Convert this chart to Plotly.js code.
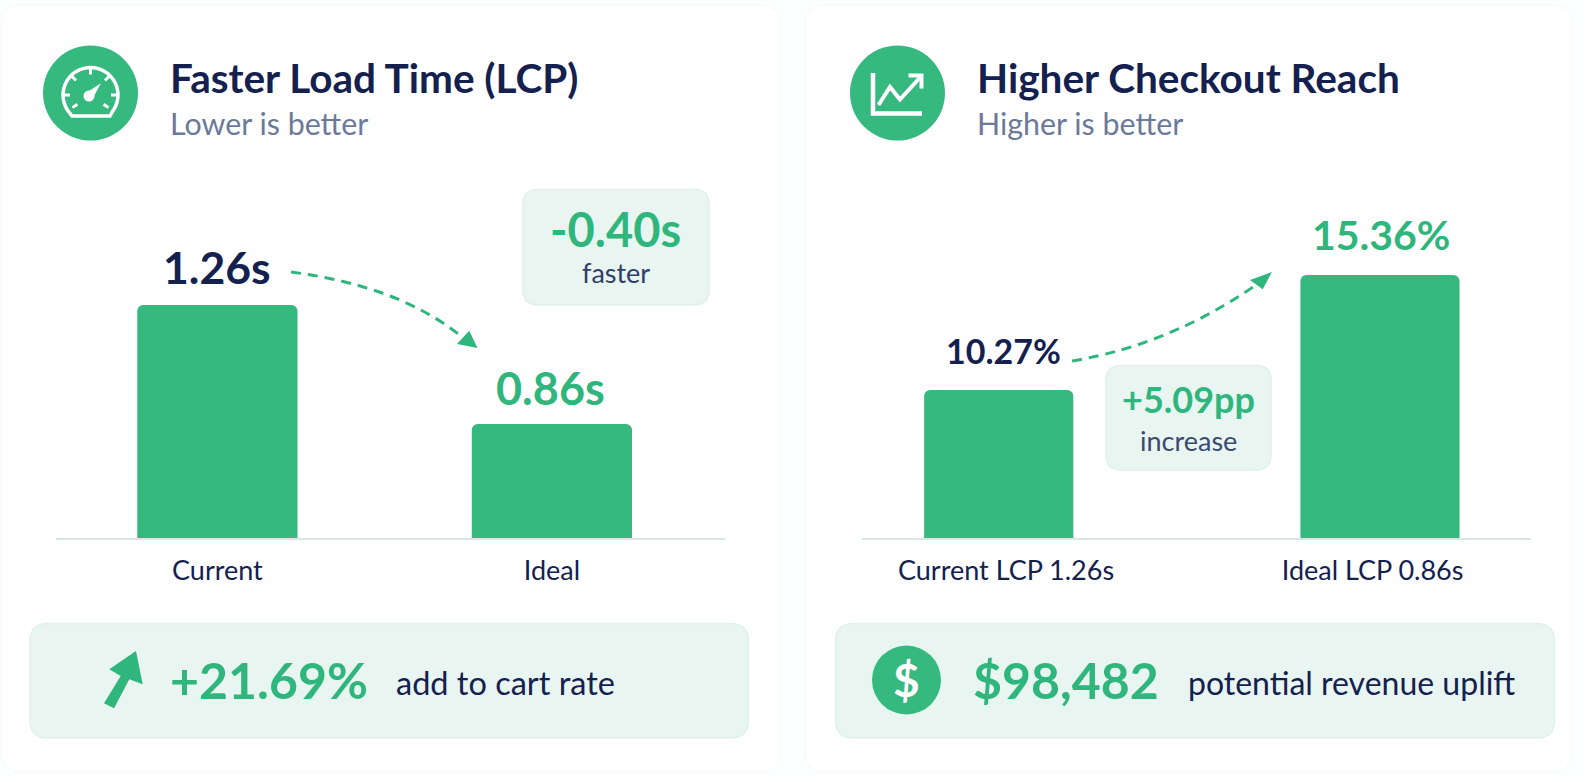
<!DOCTYPE html>
<html>
<head>
<meta charset="utf-8">
<script src="https://cdn.plot.ly/plotly-3.0.1.min.js"></script>
<style>html,body{margin:0;padding:0;background:#fdfefe;}#chart{width:1585px;height:777px;}</style>
</head>
<body>
<div id="chart"></div>
<script>
// ---- data ----
const lcpCategories = ['Current', 'Ideal'];
const lcpValues = [1.26, 0.86];
const reachCategories = ['Current LCP 1.26s', 'Ideal LCP 0.86s'];
const reachValues = [10.27, 15.36];
const lcpDelta = '-0.40s';
const reachDelta = '+5.09pp';
const cartUplift = '+21.69%';
const revenueUplift = '$98,482';

// ---- style ----
const W = 1585, H = 777;
const GREEN = '#35b97f', TGREEN = '#2fb67c', NAVY = '#14214f', GREY = '#6c7a9a', MINT = '#e9f5f1', MINTL = '#e1f0eb';
const FONT = 'Lato, "Noto Sans", sans-serif';
const X = x => (x / W).toFixed(5), Y = y => (1 - y / H).toFixed(5);
const PT = (x, y) => X(x) + ',' + Y(y);

function roundRect(x0, y0, x1, y1, r, fill, line) {
  const p = 'M' + PT(x0 + r, y0) + ' L' + PT(x1 - r, y0) + ' Q' + PT(x1, y0) + ' ' + PT(x1, y0 + r) +
    ' L' + PT(x1, y1 - r) + ' Q' + PT(x1, y1) + ' ' + PT(x1 - r, y1) +
    ' L' + PT(x0 + r, y1) + ' Q' + PT(x0, y1) + ' ' + PT(x0, y1 - r) +
    ' L' + PT(x0, y0 + r) + ' Q' + PT(x0, y0) + ' ' + PT(x0 + r, y0) + ' Z';
  return {type: 'path', xref: 'paper', yref: 'paper', path: p, fillcolor: fill, line: {color: line, width: 1.5}, layer: 'below'};
}
function circle(cx, cy, r, fill) {
  return {type: 'circle', xref: 'paper', yref: 'paper', x0: +X(cx - r), x1: +X(cx + r), y0: +Y(cy + r), y1: +Y(cy - r),
    fillcolor: fill, line: {width: 0}, layer: 'below'};
}
function poly(pts, fill, close) {
  const p = 'M' + pts.map(q => PT(q[0], q[1])).join(' L') + (close ? ' Z' : '');
  return {type: 'path', xref: 'paper', yref: 'paper', path: p, fillcolor: fill, line: {width: 0}, layer: 'below'};
}
function stroke(d, color, width, dash) {
  return {type: 'path', xref: 'paper', yref: 'paper', path: d, line: {color: color, width: width, dash: dash || 'solid'}, layer: 'below'};
}
function curve(a, b, c, d) {
  return 'M' + PT(a[0], a[1]) + ' C' + PT(b[0], b[1]) + ' ' + PT(c[0], c[1]) + ' ' + PT(d[0], d[1]);
}
function line(pts) { return 'M' + pts.map(q => PT(q[0], q[1])).join(' L'); }
function polar(cx, cy, r, deg) { const a = deg * Math.PI / 180; return [cx + r * Math.sin(a), cy - r * Math.cos(a)]; }

// gauge icon geometry
const gx = 90.5, gy = 95, gr = 27.5;
const arcPts = [];
for (let d = -128; d <= 128; d += 8) arcPts.push(polar(gx, gy, gr, d));
arcPts.push([110, 116], [72, 116], arcPts[0]);
const gaugeTicks = [-90, -45, 0, 45, 90, -125, 125].map(d => stroke(line([polar(gx, gy, d*d > 12000 ? 22 : gr, d), polar(gx, gy, d*d > 12000 ? 16 : gr - 7, d)]), '#fff', 3));

const shapes = [
  roundRect(1, 5, 780, 772, 20, '#ffffff', '#f9fbfb'),
  roundRect(805, 5, 1572, 772, 20, '#ffffff', '#f9fbfb'),
  circle(90.5, 93, 47.5, GREEN),
  circle(897.5, 93, 47.5, GREEN),
  stroke(line(arcPts), '#fff', 3.5),
  ...gaugeTicks,
  circle(89, 96, 5.5, '#fff'),
  poly([[86, 93], [101, 83], [92.5, 99]], '#fff', true),
  stroke(line([[873, 73], [873, 113.5], [922, 113.5]]), '#fff', 4.5),
  stroke(line([[878.5, 105], [890, 87], [900, 99.5], [920, 77.5]]), '#fff', 4),
  stroke(line([[908.5, 75.5], [921.5, 75.5], [921.5, 88.5]]), '#fff', 4),
  roundRect(523, 189.5, 709, 305, 15, MINT, MINTL),
  roundRect(1106, 365.5, 1271, 470, 15, MINT, MINTL),
  roundRect(30, 623.5, 748.5, 738, 18, MINT, MINTL),
  roundRect(835.5, 623.5, 1554.5, 738, 18, MINT, MINTL),
  stroke(curve([291, 272], [353, 280], [413, 298], [461, 336]), TGREEN, 3, '10px,7px'),
  poly([[477.5, 348], [469.2, 330.7], [457, 344]], TGREEN, true),
  stroke(curve([1072, 361], [1138, 350], [1198, 325], [1256, 285]), TGREEN, 3, '10px,7px'),
  poly([[1272, 272], [1250, 280], [1262.7, 289.3]], TGREEN, true),
  poly([[136, 651], [109.3, 669.3], [120.7, 676], [104, 703.3], [114, 708.3], [129.3, 679.3], [142.7, 684.3]], TGREEN, true),
  circle(906.5, 680, 34.5, GREEN)
];

function label(x, base, text, size, color, anchor, weight) {
  return {xref: 'paper', yref: 'paper', x: +X(x), y: +Y(base + size * 0.24), xanchor: anchor || 'left', yanchor: 'bottom',
    text: text, showarrow: false, borderpad: 0, font: {family: FONT, size: size, color: color, weight: weight || 400}};
}
function valueLabel(ax, ay, x, y, shiftX, shiftY, text, size, color) {
  return {xref: ax, yref: ay, x: x, y: y, xshift: shiftX, yshift: shiftY, xanchor: 'center', yanchor: 'bottom', text: text, showarrow: false,
    borderpad: 0, font: {family: FONT, size: size, color: color, weight: 700}};
}

const annotations = [
  label(169, 93, 'Faster Load Time (LCP)', 40.5, NAVY, 'left', 700),
  label(169, 135, 'Lower is better', 30.4, GREY),
  label(976, 93, 'Higher Checkout Reach', 40.5, NAVY, 'left', 700),
  label(976, 135, 'Higher is better', 30.4, GREY),
  valueLabel('x', 'y', lcpCategories[0], lcpValues[0], 0, 11, lcpValues[0].toFixed(2) + 's', 44.5, NAVY),
  valueLabel('x', 'y', lcpCategories[1], lcpValues[1], -1, 8, lcpValues[1].toFixed(2) + 's', 45, TGREEN),
  valueLabel('x2', 'y2', reachCategories[0], reachValues[0], -3, 18, reachValues[0].toFixed(2) + '%', 34, NAVY),
  valueLabel('x2', 'y2', reachCategories[1], reachValues[1], 8, 15, reachValues[1].toFixed(2) + '%', 41, TGREEN),
  label(616, 247, lcpDelta, 47, TGREEN, 'center', 700),
  label(616, 284, 'faster', 27, '#2f3f68', 'center'),
  label(1188, 413, reachDelta, 36, TGREEN, 'center', 700),
  label(1188, 452, 'increase', 27, '#3a4a70', 'center'),
  label(169, 699, cartUplift, 50, TGREEN, 'left', 700),
  label(395, 695, 'add to cart rate', 32.5, NAVY),
  label(906.5, 697, '$', 46, '#ffffff', 'center', 700),
  label(972, 699, revenueUplift, 50, TGREEN, 'left', 700),
  label(1187, 695, 'potential revenue uplift', 32, NAVY)
];

const traces = [
  {type: 'bar', x: lcpCategories, y: lcpValues, xaxis: 'x', yaxis: 'y', width: [0.479, 0.479],
    marker: {color: GREEN, cornerradius: 6}, hoverinfo: 'skip'},
  {type: 'bar', x: reachCategories, y: reachValues, xaxis: 'x2', yaxis: 'y2',
    width: [0.407, 0.434], offset: [-0.2235, -0.197],
    marker: {color: GREEN, cornerradius: 6}, hoverinfo: 'skip'}
];

const tickFont = {family: FONT, size: 27, color: NAVY};
function xAxis(l, r, range, anchor) {
  return {domain: [l / W, r / W], range: range, type: 'category', anchor: anchor, showgrid: false, zeroline: false,
    showline: true, linecolor: '#d6e7e5', linewidth: 2, ticks: '', ticklen: 0, ticklabelstandoff: 8, tickfont: tickFont, automargin: false, fixedrange: true};
}
function yAxis(range, anchor) {
  return {domain: [1 - 538 / H, 1 - 160 / H], range: range, visible: false, anchor: anchor, fixedrange: true};
}
const layout = {
  width: W, height: H, margin: {l: 0, r: 0, t: 0, b: 0}, autosize: false,
  paper_bgcolor: '#fdfefe', plot_bgcolor: 'rgba(0,0,0,0)', showlegend: false, barmode: 'overlay',
  xaxis: xAxis(56, 725, [-0.4825, 1.5175], 'y'),
  yaxis: yAxis([0.477, 1.747], 'x'),
  xaxis2: xAxis(862, 1531, [-0.393, 1.432], 'y2'),
  yaxis2: yAxis([3.72, 20.45], 'x2'),
  shapes: shapes, annotations: annotations
};
Plotly.newPlot('chart', traces, layout, {displayModeBar: false, staticPlot: true, responsive: false});
</script>
</body>
</html>
